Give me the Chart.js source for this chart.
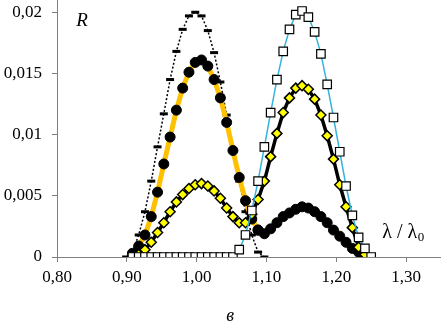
<!DOCTYPE html>
<html><head><meta charset="utf-8">
<script src="https://cdn.jsdelivr.net/npm/chart.js@4.4.1/dist/chart.umd.min.js"></script>
<style>html,body{margin:0;padding:0;background:#fff;overflow:hidden}#wrap{width:441px;height:326px;position:relative}</style>
</head><body><div id="wrap"><canvas id="c"></canvas></div>
<script>
// λ / λ0 sample positions
const lambdaRatio = [0.899,0.908,0.917,0.926,0.935,0.944,0.953,0.962,0.971,0.980,0.989,0.998,1.007,1.016,1.025,1.034,1.043,1.052,1.061,1.070,1.079,1.088,1.097,1.106,1.115,1.124,1.133,1.142,1.151,1.160,1.169,1.178,1.187,1.196,1.205,1.214,1.223,1.232,1.241,1.250];
// dotted line with dash markers
const rDash = [0,0.0004,0.0018,0.0037,0.0062,0.0090,0.0117,0.0145,0.0168,0.0186,0.0197,0.0200,0.0197,0.0185,0.0167,0.0143,0.0116,0.0088,0.0062,0.0037,0.0018,0.0004,0,null,null,null,null,null,null,null,null,null,null,null,null,null,null,null,null,null];
// orange line with black circles (first peak)
const rCircleFirst = [null,0.0003,0.0009,0.0018,0.0033,0.0053,0.0076,0.0098,0.0120,0.0138,0.0151,0.0159,0.0161,0.0156,0.0145,0.0130,0.0110,0.0087,0.0065,0.0046,0.0031,0.0022,null,null,null,null,null,null,null,null,null,null,null,null,null,null,null,null,null,null];
// black circles (second peak)
const rCircleSecond = [null,null,null,null,null,null,null,null,null,null,null,null,null,null,null,null,null,null,null,null,null,0.0022,0.0019,0.0023,0.0028,0.0033,0.0036,0.0039,0.0041,0.0040,0.0037,0.0033,0.0028,0.0022,0.0017,0.0012,0.0007,0.0004,0.0001,null];
// black line with yellow diamonds
const rDiamond = [null,0,0.0002,0.0006,0.0012,0.0020,0.0028,0.0037,0.0045,0.0051,0.0056,0.0059,0.0060,0.0058,0.0054,0.0048,0.0040,0.0033,0.0028,0.0028,0.0035,0.0047,0.0062,0.0082,0.0101,0.0118,0.0130,0.0138,0.0140,0.0137,0.0129,0.0116,0.0099,0.0080,0.0059,0.0041,0.0024,0.0008,0.0002,null];
// blue line with white squares
const rSquare = [null,0,0,0,0,0,0,0,0,0,0,0,0,0,0,0,0,0,0.0006,0.0018,0.0038,0.0062,0.0090,0.0118,0.0145,0.0168,0.0186,0.0198,0.0201,0.0196,0.0184,0.0166,0.0141,0.0114,0.0086,0.0058,0.0034,0.0016,0.0007,0];
const xTickValues = [0.80,0.90,1.00,1.10,1.20,1.30];
const yTickValues = [0,0.005,0.01,0.015,0.02];

function pts(arr){ const out=[]; arr.forEach((v,i)=>{ if(v!==null) out.push({x:lambdaRatio[i],y:v}); }); return out; }
const comma = s => s.replace('.', ',');

const textPlugin = {
  id:'txt',
  afterDraw(chart){
    const {ctx, scales:{x,y}} = chart;
    ctx.save();
    ctx.fillStyle='#000';
    ctx.textBaseline='middle';
    ctx.textAlign='center';
    ctx.font='italic 19px "Liberation Serif"';
    ctx.fillText('R', x.getPixelForValue(0.836), y.getPixelForValue(0.0193));
    // x-axis caption
    ctx.font='italic 18px "Liberation Serif"';
    ctx.fillText('в', x.getPixelForValue(1.048), chart.chartArea.bottom + 59);
    ctx.textAlign='left';
    ctx.font='20px "Liberation Serif"';
    const lx = x.getPixelForValue(1.266), ly = y.getPixelForValue(0.0020);
    const main='λ / λ';
    ctx.fillText(main, lx, ly);
    const w = ctx.measureText(main).width;
    ctx.font='13px "Liberation Serif"';
    ctx.fillText('0', lx+w+0.5, ly+5);
    ctx.restore();
  }
};

new Chart(document.getElementById('c'), {
  type:'line',
  data:{ datasets:[
    {data:pts(rSquare), borderColor:'#35B4DC', borderWidth:1.5, pointStyle:'rect', pointRadius:6, pointBackgroundColor:'#fff', pointBorderColor:'#000', pointBorderWidth:1.2},
    {data:pts(rDiamond), borderColor:'#000', borderWidth:3.5, pointStyle:'rectRot', pointRadius:5, pointBackgroundColor:'#FFFF00', pointBorderColor:'#000', pointBorderWidth:1.5},
    {data:pts(rCircleSecond), borderColor:'#000', borderWidth:1.5, pointStyle:'circle', pointRadius:5, pointBackgroundColor:'#000', pointBorderColor:'#000', pointBorderWidth:1},
    {data:pts(rCircleFirst), borderColor:'#FFC000', borderWidth:5, pointStyle:'circle', pointRadius:5, pointBackgroundColor:'#000', pointBorderColor:'#000', pointBorderWidth:1},
    {data:pts(rDash), borderColor:'#000', borderWidth:1.5, borderDash:[2,2], pointStyle:'line', pointRadius:4, pointBorderColor:'#000', pointBorderWidth:3}
  ]},
  options:{
    responsive:true, maintainAspectRatio:false, animation:false,
    layout:{padding:0, autoPadding:false},
    elements:{line:{tension:0}},
    plugins:{legend:{display:false}, tooltip:{enabled:false}},
    scales:{
      x:{type:'linear', min:0.8, max:1.35,
        afterBuildTicks:s=>{ s.ticks = xTickValues.map(v=>({value:v})); },
        afterFit:s=>{ s.height=69; s.paddingLeft=0; s.paddingRight=0; },
        ticks:{color:'#000', font:{family:'"Liberation Serif"', size:17}, padding:5, maxRotation:0, autoSkip:false,
          callback:v=>comma(Number(v).toFixed(2))},
        grid:{drawOnChartArea:false, drawTicks:true, tickLength:5, color:'#808080'},
        border:{display:true, color:'#808080', width:1}
      },
      y:{type:'linear', min:0, max:0.021,
        afterBuildTicks:s=>{ s.ticks = yTickValues.map(v=>({value:v})); },
        afterFit:s=>{ s.width=57; s.paddingTop=0; s.paddingBottom=0; },
        ticks:{color:'#000', font:{family:'"Liberation Serif"', size:17}, padding:10, autoSkip:false,
          callback:v=>comma(String(Number(v.toFixed(3))))},
        grid:{drawOnChartArea:false, drawTicks:true, tickLength:5, color:'#808080'},
        border:{display:true, color:'#808080', width:1}
      }
    }
  },
  plugins:[textPlugin]
});
</script></body></html>
